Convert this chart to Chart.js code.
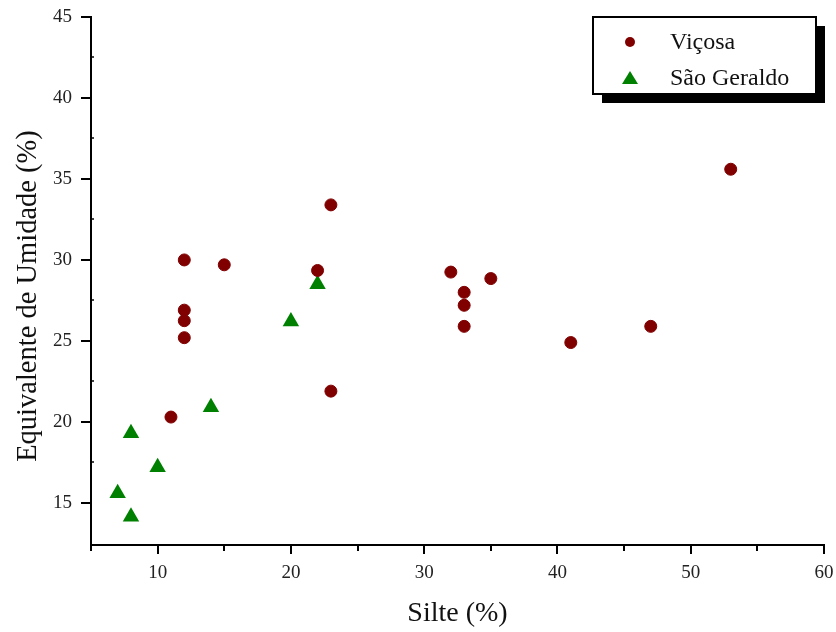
<!DOCTYPE html>
<html>
<head>
<meta charset="utf-8">
<script src="https://cdn.jsdelivr.net/npm/chart.js@4"></script>
<style>
  body { margin: 0; background: #fff; }
  #wrap { width: 836px; height: 632px; }
</style>
</head>
<body>
<div id="wrap"><canvas id="scatterChart" width="836" height="632"></canvas></div>
<script>
// data
const vicosaX = [11, 12, 12, 12, 12, 15, 22, 23, 23, 32, 33, 33, 33, 35, 41, 47, 53];
const vicosaY = [20.3, 30.0, 26.9, 26.25, 25.2, 29.7, 29.35, 33.4, 21.9, 29.25, 28.0, 27.2, 25.9, 28.85, 24.9, 25.9, 35.6];
const geraldoX = [7, 8, 8, 10, 14, 20, 22];
const geraldoY = [15.6, 19.3, 14.15, 17.2, 20.9, 26.2, 28.5];
const xTicks = [10, 20, 30, 40, 50, 60];
const yTicks = [15, 20, 25, 30, 35, 40, 45];
const yTitle = "Equivalente de Umidade (%)";

const toPoints = (xs, ys) => xs.map((x, i) => ({ x: x, y: ys[i] }));

const serif = "'Liberation Serif', 'DejaVu Serif', serif";

// axis ticks like the original (major out, minor shorter) + y title
const tickMarks = {
  id: "tickMarks",
  afterDraw(chart) {
    const ctx = chart.ctx;
    const xs = chart.scales.x;
    const ys = chart.scales.y;
    ctx.save();
    ctx.strokeStyle = "#000";
    ctx.lineWidth = 2;
    for (let v = 5; v <= 60; v += 5) {
      const px = Math.round(xs.getPixelForValue(v));
      const len = v % 10 === 0 ? 9 : 6;
      ctx.beginPath();
      ctx.moveTo(px, ys.bottom);
      ctx.lineTo(px, ys.bottom + len);
      ctx.stroke();
    }
    for (let v = 15; v <= 45; v += 5) {
      const py = Math.round(ys.getPixelForValue(v));
      ctx.beginPath();
      ctx.moveTo(xs.left, py);
      ctx.lineTo(xs.left - 10, py);
      ctx.stroke();
    }
    ctx.lineWidth = 1.5;
    for (let v = 17.5; v < 45; v += 5) {
      const py = Math.round(ys.getPixelForValue(v));
      ctx.beginPath();
      ctx.moveTo(xs.left, py);
      ctx.lineTo(xs.left + 3, py);
      ctx.stroke();
    }
    // y axis title, sits a bit below the plot centre in the original
    ctx.translate(29, 296);
    ctx.rotate(-Math.PI / 2);
    ctx.fillStyle = "#111";
    ctx.font = "28.5px " + serif;
    ctx.textAlign = "center";
    ctx.textBaseline = "middle";
    ctx.fillText(yTitle, 0, 0);
    ctx.restore();
  },
};

// boxed legend with drop shadow
const boxLegend = {
  id: "boxLegend",
  afterDraw(chart) {
    const ctx = chart.ctx;
    const bx = 593, by = 17, bw = 223, bh = 77;
    ctx.save();
    ctx.fillStyle = "#000";
    ctx.fillRect(bx + 9, by + 9, bw, bh);
    ctx.fillStyle = "#fff";
    ctx.fillRect(bx, by, bw, bh);
    ctx.strokeStyle = "#000";
    ctx.lineWidth = 2;
    ctx.strokeRect(bx, by, bw, bh);

    const ds = chart.data.datasets;
    const rows = [42, 78];
    ds.forEach((d, i) => {
      const cy = rows[i];
      ctx.fillStyle = d.backgroundColor;
      ctx.beginPath();
      if (d.pointStyle === "triangle") {
        ctx.moveTo(630, cy - 7);
        ctx.lineTo(638, cy + 6);
        ctx.lineTo(622, cy + 6);
        ctx.closePath();
      } else {
        ctx.arc(630, cy, 5, 0, Math.PI * 2);
      }
      ctx.fill();
      ctx.fillStyle = "#111";
      ctx.font = "24px " + serif;
      ctx.textBaseline = "middle";
      ctx.fillText(d.label, 670, cy + 1);
    });
    ctx.restore();
  },
};

new Chart(document.getElementById("scatterChart"), {
  type: "scatter",
  data: {
    datasets: [
      {
        label: "Viçosa",
        data: toPoints(vicosaX, vicosaY),
        backgroundColor: "#800000",
        borderColor: "#800000",
        pointStyle: "circle",
        pointRadius: 6,
        pointHoverRadius: 6,
      },
      {
        label: "São Geraldo",
        data: toPoints(geraldoX, geraldoY),
        backgroundColor: "#008000",
        borderColor: "#008000",
        pointStyle: "triangle",
        pointRadius: 9.5,
        pointHoverRadius: 9.5,
        borderWidth: 0,
      },
    ],
  },
  options: {
    responsive: false,
    animation: false,
    layout: { padding: { top: 17, right: 12, left: 0, bottom: 0 } },
    plugins: {
      legend: { display: false },
      tooltip: { enabled: false },
    },
    scales: {
      x: {
        type: "linear",
        min: 5,
        max: 60,
        afterBuildTicks: (scale) => {
          scale.ticks = xTicks.map((v) => ({ value: v }));
        },
        afterFit: (scale) => {
          scale.height = 87;
          scale.paddingLeft = 0;
          scale.paddingRight = 0;
        },
        grid: { display: false },
        border: { display: true, color: "#000", width: 2 },
        ticks: {
          color: "#222",
          font: { family: serif, size: 19 },
          padding: 9,
          maxRotation: 0,
        },
        title: {
          display: true,
          text: "Silte (%)",
          color: "#111",
          font: { family: serif, size: 28 },
          padding: { top: 0, bottom: 2 },
        },
      },
      y: {
        type: "linear",
        min: 12.4,
        max: 45,
        afterBuildTicks: (scale) => {
          scale.ticks = yTicks.map((v) => ({ value: v }));
        },
        afterFit: (scale) => {
          scale.width = 91;
          scale.paddingTop = 0;
          scale.paddingBottom = 0;
        },
        grid: { display: false },
        border: { display: true, color: "#000", width: 2 },
        ticks: {
          color: "#222",
          font: { family: serif, size: 19 },
          padding: 11,
        },
        title: { display: false },
      },
    },
  },
  plugins: [tickMarks, boxLegend],
});
</script>
</body>
</html>
